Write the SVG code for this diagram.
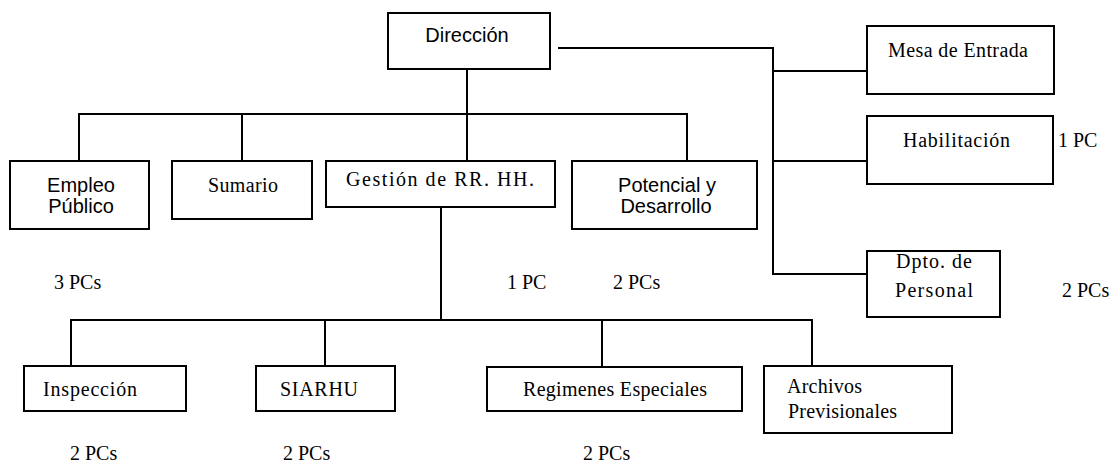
<svg xmlns="http://www.w3.org/2000/svg" width="1110" height="465" viewBox="0 0 1110 465">
<style>
rect{fill:#fff;stroke:#000;stroke-width:2}
.c path{fill:none;stroke:#000;stroke-width:2}
text{fill:#000;font-size:20px}
.sa{font-family:"Liberation Sans",Arial,sans-serif;text-anchor:middle}
.se{font-family:"Liberation Serif","Times New Roman",serif}
</style>
<rect width="1110" height="465" style="fill:#fff;stroke:none"/>
<g class="c" id="connectors">
<path d="M467 69V161"/>
<path d="M79 161V114H687V161M242 114V161"/>
<path d="M558 48H773V274H867M773 71H867M773 161H867"/>
<path d="M441 207V320"/>
<path d="M71 366V320H812V366M325 320V366M602 320V367"/>
</g>
<g id="direccion"><rect x="388" y="13" width="162" height="56"/><text class="sa" x="467" y="42">Dirección</text></g>
<g id="mesa"><rect x="867" y="26" width="187" height="68"/><text class="se" x="888" y="57" textLength="140">Mesa de Entrada</text></g>
<g id="habilitacion"><rect x="867" y="116" width="186" height="68"/><text class="se" x="903" y="147" textLength="107">Habilitación</text><text class="se" x="1058" y="147">1 PC</text></g>
<g id="dpto"><rect x="867" y="251" width="133" height="66"/><text class="se" x="896" y="268" textLength="76">Dpto.  de</text><text class="se" x="895" y="297" textLength="78">Personal</text><text class="se" x="1062" y="297">2 PCs</text></g>
<g id="empleo"><rect x="10" y="161" width="139" height="68"/><text class="sa" x="81" y="192">Empleo</text><text class="sa" x="81" y="213">Público</text><text class="se" x="54" y="289">3 PCs</text></g>
<g id="sumario"><rect x="172" y="161" width="140" height="58"/><text class="se" x="208" y="192" textLength="70">Sumario</text></g>
<g id="gestion"><rect x="326" y="161" width="229" height="46"/><text class="se" x="346" y="186" textLength="188">Gestión de RR. HH.</text><text class="se" x="507" y="289">1 PC</text></g>
<g id="potencial"><rect x="572" y="161" width="185" height="68"/><text class="sa" x="667" y="192">Potencial y</text><text class="sa" x="666" y="213">Desarrollo</text><text class="se" x="613" y="289">2 PCs</text></g>
<g id="inspeccion"><rect x="24" y="366" width="162" height="45"/><text class="se" x="43" y="396" textLength="94">Inspección</text><text class="se" x="70" y="460">2 PCs</text></g>
<g id="siarhu"><rect x="256" y="366" width="139" height="45"/><text class="se" x="280" y="396" textLength="78">SIARHU</text><text class="se" x="283" y="460">2 PCs</text></g>
<g id="regimenes"><rect x="487" y="367" width="255" height="44"/><text class="se" x="523" y="396" textLength="184">Regimenes Especiales</text><text class="se" x="583" y="460">2 PCs</text></g>
<g id="archivos"><rect x="764" y="366" width="188" height="67"/><text class="se" x="787" y="393" textLength="75">Archivos</text><text class="se" x="788" y="418" textLength="109">Previsionales</text></g>
</svg>
